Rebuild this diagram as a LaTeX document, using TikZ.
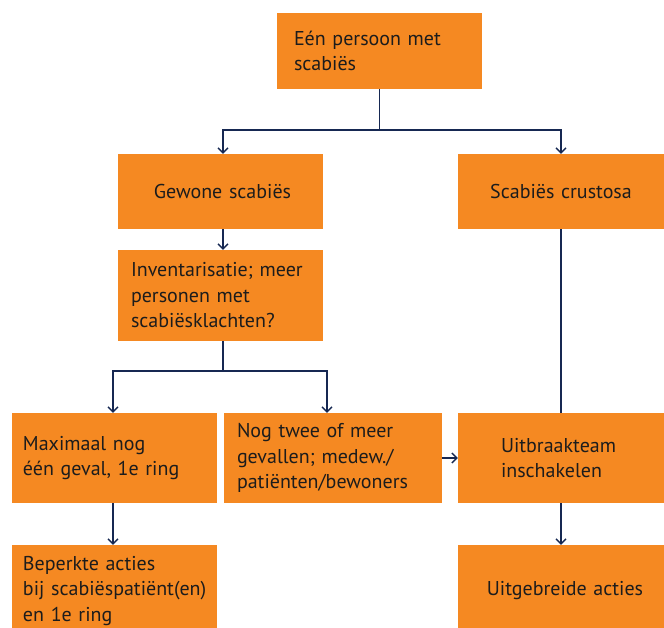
\documentclass[tikz,border=0pt]{standalone}
\usepackage{fontspec}
\setmainfont{PT Sans}
\usetikzlibrary{arrows.meta}
\definecolor{flowOrange}{RGB}{245,137,34}
\definecolor{flowNavy}{RGB}{22,40,82}
\definecolor{flowText}{RGB}{28,28,28}
\tikzset{
  >={Straight Barb[length=5pt,width=10pt]},
  stepbox/.style={fill=flowOrange, text=flowText, inner xsep=0pt, inner ysep=0pt,
    align=left, font=\fontsize{20}{25.5}\selectfont},
  link/.style={draw=flowNavy, line width=1.3pt},
}

\begin{document}
\begin{tikzpicture}[x=1pt, y=-1pt]
  \useasboundingbox (0,0) rectangle (664,628);
  % boxes
  \node[stepbox, minimum width=205pt, minimum height=76pt, text width=171pt]
    (start) at (379.5,51) {Eén persoon met\\scabiës};
  \node[stepbox, align=center, minimum width=205pt, minimum height=75pt, text width=180pt]
    (common) at (220.5,191.5) {\hspace*{4pt}Gewone scabiës};
  \node[stepbox, align=center, minimum width=206pt, minimum height=75pt, text width=180pt]
    (crusted) at (561,191.5) {Scabiës crustosa};
  \node[stepbox, minimum width=205pt, minimum height=91pt, text width=179pt]
    (inventory) at (220.5,295.5) {\mbox{Inventarisatie; meer}\\personen met\\scabiësklachten?};
  \node[stepbox, minimum width=205pt, minimum height=90pt, text width=183pt]
    (single) at (114.5,458) {Maximaal nog\\\mbox{één geval, 1e ring}};
  \node[stepbox, minimum width=218pt, minimum height=90pt, text width=192pt]
    (multiple) at (333,458) {\mbox{Nog twee of meer}\\\mbox{gevallen; medew./}\\\mbox{patiënten/bewoners}};
  \node[stepbox, minimum width=206pt, minimum height=90pt, text width=120pt]
    (outbreak) at (561,458) {Uitbraakteam\\inschakelen};
  \node[stepbox, minimum width=205pt, minimum height=92pt, text width=183pt]
    (limited) at (114.5,591) {Beperkte acties\\\mbox{bij scabiëspatiënt(en)}\\en 1e ring};
  \node[stepbox, align=center, minimum width=206pt, minimum height=92pt, text width=180pt]
    (extended) at (561,591) {\hspace*{8pt}Uitgebreide acties};
  % connectors
  \coordinate (fork1) at (379.5,130);
  \coordinate (fork2) at (223,371);
  \draw[link] (start.south) -- (fork1);
  \draw[link,->] (fork1) -| ([xshift=2.5pt]common.north);
  \draw[link,->] (fork1) -| (crusted.north);
  \draw[link,->] ([xshift=2.5pt]common.south) -- ([xshift=2.5pt]inventory.north);
  \draw[link] ([xshift=2.5pt]inventory.south) -- (fork2);
  \draw[link,->] (fork2) -| ([xshift=-1.5pt]single.north);
  \draw[link,->] (fork2) -| ([xshift=-6pt]multiple.north);
  \draw[link] (crusted.south) -- (outbreak.north);
  \draw[link,->] (multiple.east) -- (outbreak.west);
  \draw[link,->] ([xshift=-1.5pt]single.south) -- ([xshift=-1.5pt]limited.north);
  \draw[link,->] (outbreak.south) -- (extended.north);
\end{tikzpicture}
\end{document}
